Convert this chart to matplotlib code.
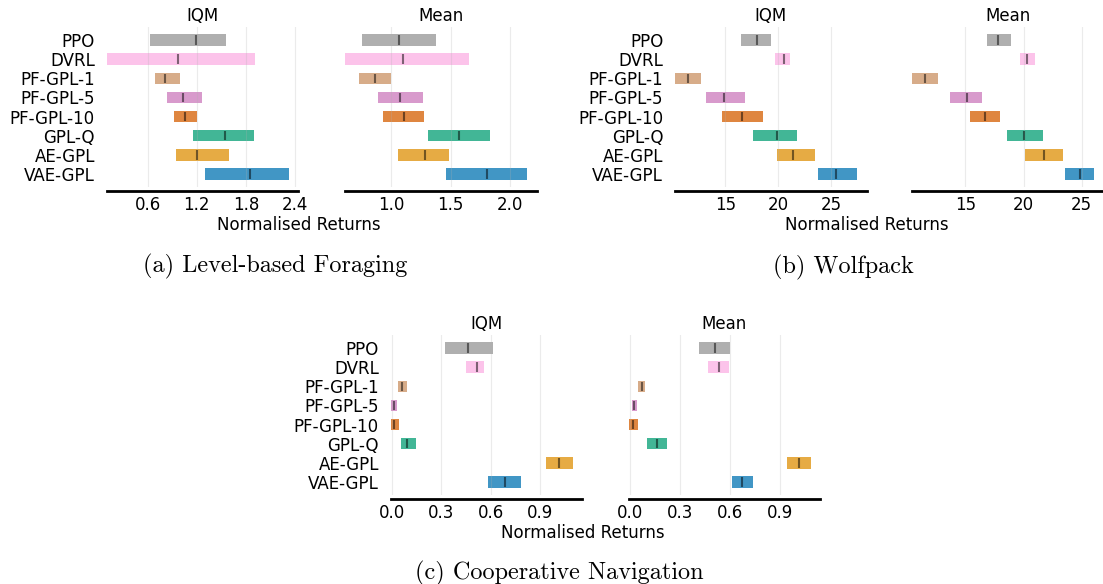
import matplotlib.pyplot as plt
from matplotlib.ticker import MultipleLocator, FormatStrFormatter

algorithms = ['PPO', 'DVRL', 'PF-GPL-1', 'PF-GPL-5', 'PF-GPL-10', 'GPL-Q', 'AE-GPL', 'VAE-GPL']
colors = ['#949494', '#fbafe4', '#ca9161', '#cc78bc', '#d55e00', '#029e73', '#de8f05', '#0173b2']

# Level-based Foraging
lbf_iqm_low = [0.633, 0.099, 0.694, 0.83, 0.916, 1.15, 0.94, 1.298]
lbf_iqm_high = [1.552, 1.913, 0.998, 1.269, 1.207, 1.897, 1.589, 2.328]
lbf_iqm_point = [1.187, 0.973, 0.813, 1.035, 1.051, 1.548, 1.207, 1.852]
lbf_mean_low = [0.756, 0.609, 0.731, 0.89, 0.932, 1.309, 1.054, 1.462]
lbf_mean_high = [1.374, 1.654, 1.0, 1.263, 1.272, 1.833, 1.482, 2.147]
lbf_mean_point = [1.062, 1.096, 0.864, 1.076, 1.108, 1.567, 1.28, 1.805]

# Wolfpack
wolf_iqm_low = [16.48, 19.7, 10.24, 13.17, 14.68, 17.6, 19.89, 23.77]
wolf_iqm_high = [19.32, 21.12, 12.7, 16.86, 18.56, 21.78, 23.49, 27.46]
wolf_iqm_point = [17.97, 20.52, 11.47, 14.9, 16.6, 19.86, 21.37, 25.41]
wolf_mean_low = [16.87, 19.71, 10.4, 13.68, 15.4, 18.59, 20.14, 23.59]
wolf_mean_high = [18.94, 21.0, 12.64, 16.41, 17.99, 21.7, 23.42, 26.09]
wolf_mean_point = [17.84, 20.32, 11.55, 15.09, 16.64, 20.06, 21.72, 24.86]

# Cooperative Navigation
cn_iqm_low = [0.322, 0.45, 0.034, -0.008, -0.008, 0.055, 0.937, 0.584]
cn_iqm_high = [0.614, 0.559, 0.089, 0.028, 0.043, 0.146, 1.10, 0.785]
cn_iqm_point = [0.462, 0.515, 0.063, 0.010, 0.014, 0.089, 1.016, 0.685]
cn_mean_low = [0.413, 0.467, 0.048, 0.012, -0.006, 0.102, 0.94, 0.611]
cn_mean_high = [0.599, 0.593, 0.09, 0.042, 0.048, 0.222, 1.084, 0.737]
cn_mean_point = [0.507, 0.533, 0.072, 0.026, 0.02, 0.162, 1.014, 0.673]

W, H = 1103, 584
fig = plt.figure(figsize=(W / 100, H / 100), dpi=100)


def px_axes(left, top, width=191.5, height=160):
    return fig.add_axes([left / W, (H - top - height) / H, width / W, height / H])


def draw(ax, low, high, point, title, step, fmt, labels):
    n = len(algorithms)
    for i in range(n):
        y = n - 1 - i
        ax.barh(y, high[i] - low[i], left=low[i], height=0.6, color=colors[i], alpha=0.75)
        ax.vlines(point[i], y - 0.25, y + 0.25, color='k', alpha=0.5, lw=1.5)
    ax.set_yticks(range(n))
    if labels:
        ax.set_yticklabels(algorithms[::-1], fontsize=12)
    else:
        ax.set_yticklabels([])
    ax.xaxis.set_major_locator(MultipleLocator(step))
    ax.xaxis.set_major_formatter(FormatStrFormatter(fmt))
    ax.tick_params(length=0, labelsize=12)
    ax.spines['top'].set_visible(False)
    ax.spines['right'].set_visible(False)
    ax.spines['left'].set_visible(False)
    ax.spines['left'].set_position(('outward', 5))
    ax.spines['bottom'].set_position(('outward', 3))
    ax.spines['bottom'].set_linewidth(2)
    ax.grid(True, axis='x', alpha=0.25)
    ax.set_title(title, fontsize=12, pad=4)


panels = [
    (106.7, 27, lbf_iqm_low, lbf_iqm_high, lbf_iqm_point, 'IQM', 0.6, '%.1f', True),
    (345, 27, lbf_mean_low, lbf_mean_high, lbf_mean_point, 'Mean', 0.5, '%.1f', False),
    (675, 27, wolf_iqm_low, wolf_iqm_high, wolf_iqm_point, 'IQM', 5, '%d', True),
    (912, 27, wolf_mean_low, wolf_mean_high, wolf_mean_point, 'Mean', 5, '%d', False),
    (390.7, 335, cn_iqm_low, cn_iqm_high, cn_iqm_point, 'IQM', 0.3, '%.1f', True),
    (628.7, 335, cn_mean_low, cn_mean_high, cn_mean_point, 'Mean', 0.3, '%.1f', False),
]
for left, top, lo, hi, pt, title, step, fmt, labels in panels:
    ax = px_axes(left, top)
    draw(ax, lo, hi, pt, title, step, fmt, labels)

# x labels
for x, y in [(298.8, 230), (866.5, 230), (582.5, 538.3)]:
    fig.text(x / W, 1 - y / H, 'Normalised Returns', ha='center', va='baseline', fontsize=12)

# sub-captions
for x, y, s in [(275, 272.3, '(a) Level-based Foraging'),
                (843, 273.3, '(b) Wolfpack'),
                (559.7, 579.3, '(c) Cooperative Navigation')]:
    fig.text(x / W, 1 - y / H, s, ha='center', va='baseline', fontsize=17.5, family='cmr10')

fig.savefig('out.png', dpi=100)
